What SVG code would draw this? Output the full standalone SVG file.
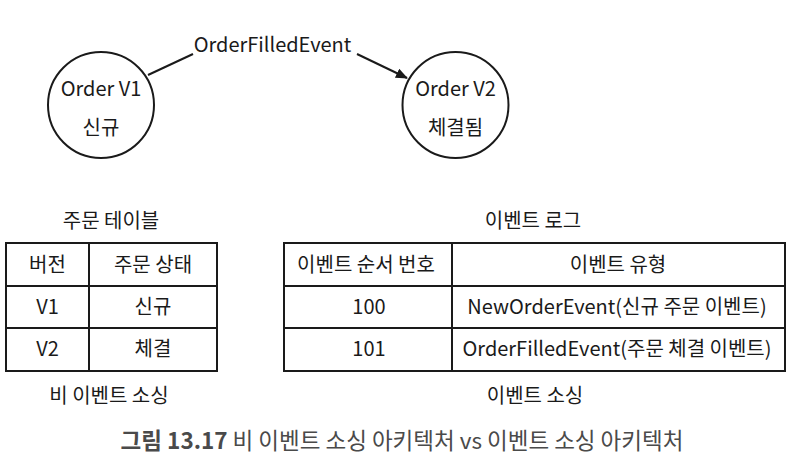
<svg xmlns="http://www.w3.org/2000/svg" width="801" height="466" viewBox="0 0 801 466">
  <style>
    text { font-family: "Noto Sans CJK KR", "Noto Sans", sans-serif; font-size: 20px; fill: #1a1a1a; text-anchor: middle; }
    .node { fill: #ffffff; stroke: #1a1a1a; stroke-width: 2; }
    .edge { fill: none; stroke: #1a1a1a; stroke-width: 2; }
    .grid { fill: none; stroke: #1a1a1a; stroke-width: 2; }
    .cap { font-size: 22.5px; fill: #4a4a4a; }
    .capb { font-weight: bold; }
  </style>
  <defs>
    <marker id="arrow" viewBox="0 0 12 10" refX="11" refY="5" markerWidth="12" markerHeight="10" markerUnits="userSpaceOnUse" orient="auto">
      <path d="M0,0 L12,5 L0,10 Z" fill="#1a1a1a"/>
    </marker>
  </defs>

  <g id="connectors">
    <line class="edge" x1="148" y1="75" x2="193" y2="54"/>
    <line class="edge" x1="357" y1="54" x2="407" y2="78" marker-end="url(#arrow)"/>
    <text x="272.5" y="52">OrderFilledEvent</text>
  </g>

  <g id="order-v1">
    <circle class="node" cx="101" cy="105" r="53"/>
    <text x="101" y="96">Order V1</text>
    <text x="101" y="135">신규</text>
  </g>

  <g id="order-v2">
    <circle class="node" cx="455.5" cy="105" r="53"/>
    <text x="455.5" y="96">Order V2</text>
    <text x="455.5" y="135">체결됨</text>
  </g>

  <g id="order-table">
    <text x="111" y="228">주문 테이블</text>
    <rect class="grid" x="6" y="243" width="211" height="128"/>
    <line class="grid" x1="6" y1="286" x2="217" y2="286"/>
    <line class="grid" x1="6" y1="328" x2="217" y2="328"/>
    <line class="grid" x1="89" y1="243" x2="89" y2="371"/>
    <text x="47.5" y="272">버전</text>
    <text x="153" y="272">주문 상태</text>
    <text x="47.5" y="314">V1</text>
    <text x="153" y="314">신규</text>
    <text x="47.5" y="356">V2</text>
    <text x="153" y="356">체결</text>
    <text x="109" y="403">비 이벤트 소싱</text>
  </g>

  <g id="event-log">
    <text x="533" y="228">이벤트 로그</text>
    <rect class="grid" x="284" y="243" width="501" height="128"/>
    <line class="grid" x1="284" y1="286" x2="785" y2="286"/>
    <line class="grid" x1="284" y1="328" x2="785" y2="328"/>
    <line class="grid" x1="452" y1="243" x2="452" y2="371"/>
    <text x="366" y="272">이벤트 순서 번호</text>
    <text x="618" y="272">이벤트 유형</text>
    <text x="369" y="314">100</text>
    <text x="617" y="314">NewOrderEvent(신규 주문 이벤트)</text>
    <text x="369" y="356">101</text>
    <text x="617" y="356">OrderFilledEvent(주문 체결 이벤트)</text>
    <text x="535" y="403">이벤트 소싱</text>
  </g>

  <g id="caption">
    <text class="cap" x="402" y="449"><tspan class="capb">그림 13.17</tspan> 비 이벤트 소싱 아키텍처 vs 이벤트 소싱 아키텍처</text>
  </g>
</svg>
